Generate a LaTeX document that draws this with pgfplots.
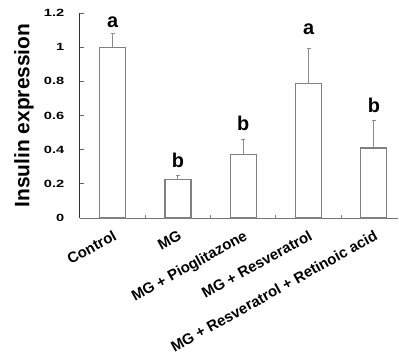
\documentclass[border=0pt]{standalone}
\usepackage{fontspec}
\setmainfont{Liberation Sans}
\usepackage{pgfplots}
\pgfplotsset{compat=1.18}
\begin{document}
\begin{tikzpicture}
\path[use as bounding box] (-80bp,-140bp) rectangle (319bp,218bp);
\begin{axis}[at={(0,0)}, anchor=south west, scale only axis,
  width=318bp, height=205bp,
  xmin=-0.5, xmax=4.37, ymin=0, ymax=1.2,
  clip=false,
  ybar, bar width=26bp,
  axis lines=left,
  axis line style={-, line width=1bp},
  x axis line style={black!55},
  y axis line style={black!80},
  ytick={0,0.2,0.4,0.6,0.8,1,1.2},
  tick align=inside,
  major tick length=4bp,
  major y tick style={black!60, line width=0.8bp},
  xtick={0,1,2,3,4},
  xticklabels={Control, MG, MG + Pioglitazone, MG + Resveratrol, MG + Resveratrol + Retinoic acid},
  major x tick style={draw=none},
  minor xtick={0.5,1.5,2.5,3.5},
  minor tick length=3bp,
  minor x tick style={black!50, line width=0.8bp},
  /pgf/number format/assume math mode=true,
  yticklabel style={font=\bfseries\fontsize{10.5}{10.5}\selectfont, xscale=1.4, anchor=east, inner sep=0pt, xshift=-11bp},
  xticklabel style={font=\bfseries\fontsize{15}{15}\selectfont, rotate=29, anchor=north east, inner sep=1bp},
  xticklabel shift=10bp,
  ylabel={Insulin expression},
  ylabel style={font=\bfseries\fontsize{21}{21}\selectfont, at={(axis description cs:-0.176,0.5)}, anchor=center},
]
\addplot[fill=white, draw=black!50, line width=1.2bp,
  error bars/.cd, y dir=plus, y explicit,
  error bar style={black!45, line width=1bp},
  error mark options={rotate=90, mark size=2bp, black!45, line width=1bp}]
  table[x=x, y=y, y error=e] {
x y e
0 1.00 0.08
1 0.225 0.025
2 0.37 0.09
3 0.785 0.205
4 0.41 0.16
};
\node[font=\bfseries\fontsize{20}{20}\selectfont, anchor=base] at (axis cs:0,1.118) {a};
\node[font=\bfseries\fontsize{20}{20}\selectfont, anchor=base] at (axis cs:1,0.293) {b};
\node[font=\bfseries\fontsize{20}{20}\selectfont, anchor=base] at (axis cs:2,0.515) {b};
\node[font=\bfseries\fontsize{20}{20}\selectfont, anchor=base] at (axis cs:3,1.077) {a};
\node[font=\bfseries\fontsize{20}{20}\selectfont, anchor=base] at (axis cs:4,0.615) {b};
\end{axis}
\end{tikzpicture}
\end{document}
